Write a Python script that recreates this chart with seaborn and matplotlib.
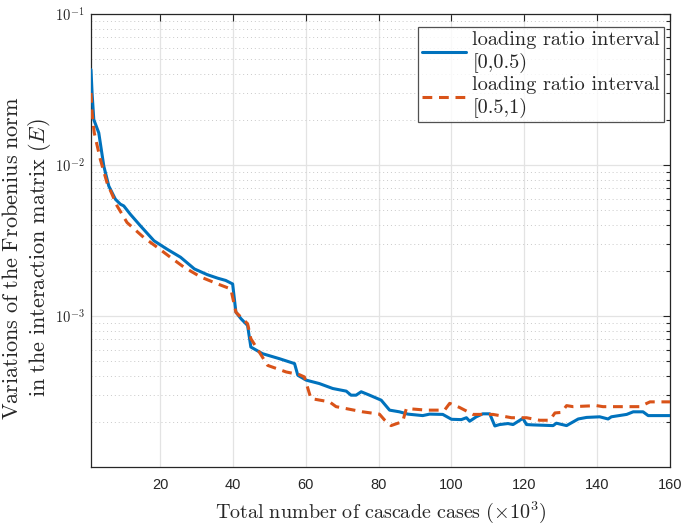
import numpy as np
import pandas as pd
import matplotlib
matplotlib.use("Agg")
import matplotlib.pyplot as plt
import seaborn as sns
from matplotlib.ticker import FixedLocator, FixedFormatter, LogLocator, NullFormatter

# ---- data ----
x_low = [1.0, 1.3, 1.77, 3.14, 4.52, 5.89, 7.71, 9.08, 10.0, 11.8, 14.6, 18.3, 21.9, 25.6,
         29.4, 32.9, 35.8, 38.0, 39.9, 40.8, 42.2, 44.0,
         44.9, 48.1, 52.7, 56.9, 57.8, 60.1, 63.7, 67.4, 71.1, 72.4, 73.8, 75.2, 77.5, 80.7,
         83.0, 85.7, 88.0, 92.1, 94.0, 97.6, 100.0, 102.7, 104.1, 105.0, 106.8, 108.6, 110.5,
         111.9, 113.2, 115.5, 116.9, 119.6, 120.6, 122.4, 127.9, 128.8, 131.6, 134.8, 137.1,
         140.7, 143.0, 143.9, 148.1, 149.9, 152.6, 154.0, 160]
y_low = [0.0428, 0.0300, 0.0200, 0.01633, 0.00984, 0.00726, 0.00593, 0.00550, 0.00536, 0.00472,
         0.00395, 0.00315, 0.00277, 0.00245,
         0.00205, 0.00188, 0.00178, 0.00172, 0.00163, 0.00106, 0.000959, 0.000866, 0.000623,
         0.000563, 0.000522,
         0.000484, 0.000405, 0.000376, 0.000357, 0.000331, 0.000318, 0.000299, 0.000299,
         0.000315, 0.000299, 0.000277, 0.000238, 0.000232, 0.000224, 0.000219, 0.000224,
         0.000223, 0.000207, 0.000206, 0.000212, 0.000201, 0.000215, 0.000225, 0.000225,
         0.000187, 0.000191, 0.000194, 0.000191, 0.000210, 0.000191, 0.000190, 0.000188,
         0.000195, 0.000188, 0.000208, 0.000213, 0.000215, 0.000208, 0.000215, 0.000223,
         0.000232, 0.000232, 0.000219, 0.000219]

x_high = [1.0, 1.3, 1.9, 3.57, 5.4, 8.17, 10.9, 15.5, 19.2, 22.8, 26.6, 31.2, 35.8, 39.4,
          40.8, 44.0, 44.9,
          47.2, 49.5, 54.6, 58.2, 59.6, 61.4, 66.5, 68.3, 75.6, 80.2, 81.6, 83.4, 86.6, 87.6,
          93.1, 98.1, 99.5, 102.2, 105.9, 111.4, 116.5, 120.6, 124.2, 127.0, 128.4, 130.2,
          131.6, 133.4, 139.8, 141.6, 151.7, 154.5, 160]
y_high = [0.0300, 0.0221, 0.01633, 0.01089, 0.00764, 0.00536, 0.00416, 0.00331, 0.00285, 0.00245,
          0.00210, 0.00181, 0.00163, 0.00151, 0.00106, 0.000889, 0.000708, 0.000578, 0.000471,
          0.000426, 0.000409,
          0.000395, 0.000284, 0.000270, 0.000251, 0.000232, 0.000224, 0.000205, 0.000188,
          0.000200, 0.000244, 0.000238, 0.000238, 0.000264, 0.000248, 0.000223, 0.000223,
          0.000212, 0.000212, 0.000204, 0.000204, 0.000228, 0.000230, 0.000255, 0.000251,
          0.000255, 0.000251, 0.000251, 0.000270, 0.000270]

labels = ["loading ratio interval\n[0,0.5)", "loading ratio interval\n[0.5,1)"]
xticks = [20, 40, 60, 80, 100, 120, 140, 160]
yticks = [1e-3, 1e-2, 1e-1]
ytick_labels = [r"$\mathsf{10^{-3}}$", r"$\mathsf{10^{-2}}$", r"$\mathsf{10^{-1}}$"]

# ---- style ----
sns.set_style("white")
plt.rcParams["font.family"] = ["Liberation Sans", "DejaVu Sans"]
plt.rcParams["mathtext.fontset"] = "cm"

fig = plt.figure(figsize=(6.82, 5.29), dpi=100)
ax = fig.add_axes([0.1334, 0.1172, 0.9824 - 0.1334, 0.9735 - 0.1172])

df_low = pd.DataFrame({"x": x_low, "y": y_low})
df_high = pd.DataFrame({"x": x_high, "y": y_high})

sns.lineplot(data=df_low, x="x", y="y", ax=ax, color="#0072BD", linewidth=2.2,
             label=labels[0], estimator=None, sort=False, zorder=3)
sns.lineplot(data=df_high, x="x", y="y", ax=ax, color="#D95319", linewidth=2.2,
             linestyle=(0, (3.2, 2.2)), label=labels[1], estimator=None, sort=False, zorder=3)

ax.set_yscale("log")
ax.set_xlim(1, 160)
ax.set_ylim(1e-4, 1e-1)

ax.xaxis.set_major_locator(FixedLocator(xticks))
ax.set_xticklabels([str(t) for t in xticks])
ax.yaxis.set_major_locator(FixedLocator(yticks))
ax.yaxis.set_major_formatter(FixedFormatter(ytick_labels))
ax.yaxis.set_minor_locator(LogLocator(base=10, subs=np.arange(2, 10), numticks=20))
ax.yaxis.set_minor_formatter(NullFormatter())

ax.tick_params(axis="both", which="both", direction="in", top=True, right=True,
               color="#262626", labelcolor="#262626", labelsize=10.5)
ax.tick_params(which="major", length=5, width=0.8)
ax.tick_params(which="minor", length=3, width=0.8)
ax.tick_params(axis="x", pad=8)
ax.tick_params(axis="y", pad=4.5)

ax.grid(True, which="major", color="#e3e3e3", linewidth=0.9, linestyle="-")
ax.grid(True, which="minor", axis="y", color="#c9c9c9", linewidth=0.7, linestyle=(0, (1, 3)))
ax.set_axisbelow(True)

for s in ax.spines.values():
    s.set_color("#262626")
    s.set_linewidth(0.9)

ax.set_xlabel(r"$\mathrm{Total\ number\ of\ cascade\ cases\ }(\times 10^3)$", fontsize=14.5, labelpad=5)
ylab = ax.set_ylabel(r"$\mathrm{Variations\ of\ the\ Frobenius\ norm}$" + "\n" +
                     r"$\mathrm{in\ the\ interaction\ matrix\ }(E)$", fontsize=16.0)
ylab.set_linespacing(1.12)
ax.yaxis.set_label_coords(-0.066, 0.461)

leg = ax.legend(loc="upper right", bbox_to_anchor=(0.9896, 0.9713), borderaxespad=0.0,
                prop={"family": "cmr10", "size": 14.6}, frameon=True, fancybox=False,
                edgecolor="#262626", handlelength=2.2, labelspacing=0.12,
                handletextpad=0.3, borderpad=0.2)
leg.get_frame().set_linewidth(0.9)
for t in leg.get_texts():
    t.set_linespacing(1.28)

fig.savefig("out.png", dpi=100)
